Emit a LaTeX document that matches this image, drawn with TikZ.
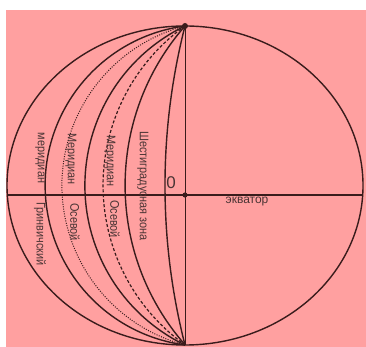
\documentclass[tikz,border=0pt]{standalone}
\usepackage{xcolor}
\usepackage{tikz}
\usepackage{fontspec}
\setmainfont{Liberation Sans}
\definecolor{bgpink}{HTML}{FFA0A0}
\definecolor{ink}{HTML}{3A1C1C}
\definecolor{lbl}{HTML}{4A3434}
\newcommand{\narrow}[1]{\scalebox{0.87}[1]{#1}}

\begin{document}
\begin{tikzpicture}[x=1pt,y=1pt,line join=round,
    mer/.style={ink,line width=1.4pt},
    lab/.style={lbl,rotate=-90,inner sep=0pt,font=\fontsize{12.5}{14}\selectfont}]
                % Background and frame of the picture
                \useasboundingbox (0,0) rectangle (366,347);
                \fill[bgpink] (6,0) rectangle (366,337);
                \coordinate (N) at (185,321);
                \coordinate (S) at (185,2);
                \coordinate (O) at (185,152);
                \coordinate (W) at (7.3,152);
                \coordinate (E) at (362.7,152);
                % Globe outline, axis and equator
                \draw[mer] (185,161.5) ellipse[x radius=178,y radius=159.5];
                \draw[ink,line width=1pt] (N) -- (S);
                \draw[ink,line width=1.2pt] (W) -- (E);
                % Meridians from pole to pole
                \draw[mer] (N) arc[start angle=97.5,end angle=262.5,radius=160.86];
                \draw[ink,line width=1pt,dash pattern=on 1pt off 1.4pt] (N) arc[start angle=104.7,end angle=255.3,radius=164.92];
                \draw[mer] (N) arc[start angle=115.8,end angle=244.2,radius=177.2];
                \draw[ink,line width=1.2pt,dash pattern=on 3pt off 2pt] (N) arc[start angle=125.6,end angle=234.4,radius=196.1];
                \draw[mer] (N) arc[start angle=138.8,end angle=221.2,radius=242.0];
                \draw[mer] (N) arc[start angle=165.7,end angle=194.3,radius=646.0];
                \fill[ink] (N) circle (3);
                \fill[ink] (O) circle (2.6);
                % Labels
                \node[lab] (mer1) at (40,189) {\narrow{меридиан}};
                \node[lab] (greenwich) at (40,113) {\narrow{Гринвичский}};
                \node[lab] (mer2) at (71,188) {\narrow{Меридиан}};
                \node[lab] (axial1) at (75,125) {\narrow{Осевой}};
                \node[lab] (mer3) at (110,186) {\narrow{Меридиан}};
                \node[lab] (axial2) at (115,128) {\narrow{Осевой}};
                \node[lab] (zone) at (143,161) {\narrow{Шестиградусная зона}};
                \node[lbl,inner sep=0pt,font=\fontsize{17}{18}\selectfont] (zero) at (171,164) {0};
                \node[lbl,inner sep=0pt,font=\fontsize{12}{14}\selectfont] (equator) at (247,145) {экватор};
            \end{tikzpicture}
\end{document}
